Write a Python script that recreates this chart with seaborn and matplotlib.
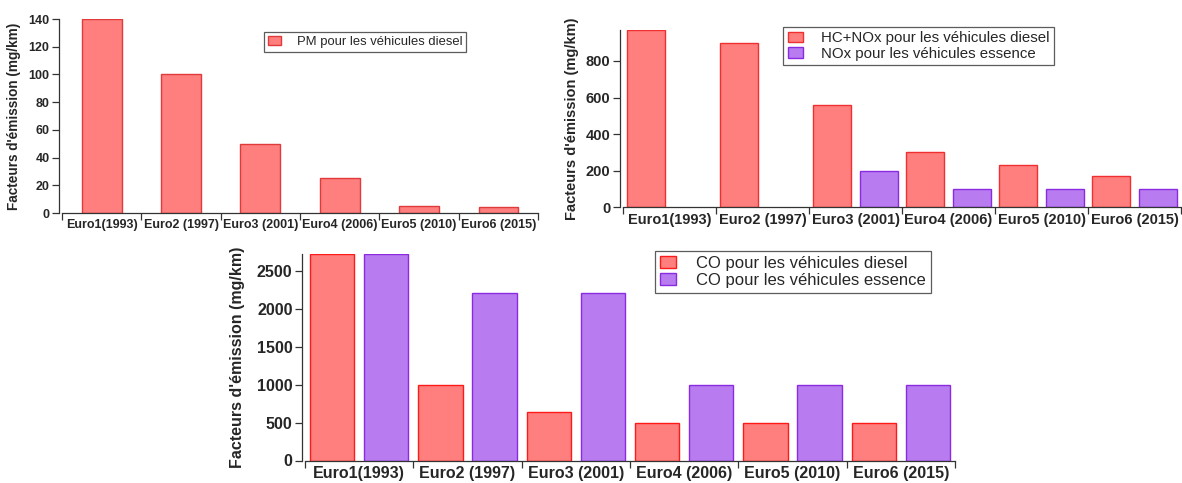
import matplotlib
matplotlib.use("Agg")
import matplotlib.pyplot as plt
import numpy as np
import pandas as pd
import seaborn as sns

sns.set_style("ticks")
plt.rcParams['font.family'] = ['Liberation Sans', 'DejaVu Sans']

# données (mg/km)
normes = ["Euro1(1993)", "Euro2 (1997)", "Euro3 (2001)", "Euro4 (2006)", "Euro5 (2010)", "Euro6 (2015)"]
pm_diesel = [140, 100, 50, 25, 5, 4.5]
hcnox_diesel = [970, 900, 560, 300, 230, 170]
nox_essence = [np.nan, np.nan, 200, 100, 100, 100]
co_diesel = [2720, 1000, 640, 500, 500, 500]
co_essence = [2720, 2200, 2200, 1000, 1000, 1000]

lab_pm = "PM pour les véhicules diesel"
lab_hc = "HC+NOx pour les véhicules diesel"
lab_nox = "NOx pour les véhicules essence"
lab_cod = "CO pour les véhicules diesel"
lab_coe = "CO pour les véhicules essence"

ROUGE, ROUGE_BORD = "#ff7f7f", "#f03030"
VIOLET, VIOLET_BORD = "#b87cf0", "#8a2be2"
ylabel = "Facteurs d'émission (mg/km)"


def long_df(series):
    rows = []
    for nom, vals in series:
        for n, v in zip(normes, vals):
            rows.append({"norme": n, "serie": nom, "val": v})
    return pd.DataFrame(rows)


def style_axe(ax, fs, fs_lab, ymax, yticks, lab_x):
    # position des axes d'abord (set_position remet les ticks à zéro)
    sns.despine(ax=ax)
    for s in ["left", "bottom"]:
        ax.spines[s].set_color("#333333")
        ax.spines[s].set_linewidth(0.9)
    ax.spines["left"].set_position(("outward", 2))

    ax.set_xlim(-0.5, 5.5)
    ax.set_ylim(0, ymax)
    ax.set_yticks(yticks)
    ax.set_yticklabels([str(v) for v in yticks], fontsize=fs, fontweight="bold")
    ax.set_xlabel("")
    ax.set_ylabel(ylabel, fontsize=fs_lab, fontweight="bold")
    ax.yaxis.set_label_coords(lab_x, 0.5)
    ax.set_xticks(range(len(normes)))
    ax.set_xticklabels(normes, fontsize=fs, fontweight="bold")
    ax.set_xticks(np.arange(-0.5, len(normes)), minor=True)
    ax.tick_params(axis="x", which="major", length=0, pad=4)
    ax.tick_params(axis="x", which="minor", length=5, width=0.9, color="#333333", direction="out")
    ax.tick_params(axis="y", length=5, width=0.9, color="#333333", pad=2)


def colorer(ax, couleurs):
    for cont, (fc, ec) in zip(ax.containers, couleurs):
        for p in cont:
            p.set_facecolor(fc)
            p.set_edgecolor(ec)
            p.set_linewidth(1.0)


def legende(ax, fs, x, y, couleurs, labels):
    h = [plt.Rectangle((0, 0), 1, 1, facecolor=fc, edgecolor=ec, linewidth=1) for fc, ec in couleurs]
    leg = ax.legend(h, labels, loc="upper left", bbox_to_anchor=(x, y), borderaxespad=0,
                    fontsize=fs, frameon=True, fancybox=False, handlelength=1.0, handleheight=0.7,
                    handletextpad=1.2, borderpad=0.3, labelspacing=0.1)
    leg.get_frame().set_edgecolor("#333333")
    leg.get_frame().set_linewidth(0.9)


fig = plt.figure(figsize=(11.82, 4.83), dpi=100)

# PM
ax1 = fig.add_axes([62 / 1182, 1 - 213 / 483, (538 - 62) / 1182, (213 - 19) / 483])
df1 = long_df([(lab_pm, pm_diesel)])
sns.barplot(data=df1, x="norme", y="val", hue="serie", width=0.5, saturation=1,
            ax=ax1, legend=False)
colorer(ax1, [(ROUGE, "#e03a3a")])
style_axe(ax1, 9, 9.8, 140, [0, 20, 40, 60, 80, 100, 120, 140], -0.086)
legende(ax1, 9.4, 0.425, 0.933, [(ROUGE, "#e03a3a")], [lab_pm])

# HC+NOx / NOx
ax2 = fig.add_axes([623 / 1182, 1 - 207.3 / 483, (1181 - 623) / 1182, (207.3 - 29.8) / 483])
df2 = long_df([(lab_hc, hcnox_diesel), (lab_nox, nox_essence)])
sns.barplot(data=df2, x="norme", y="val", hue="serie", width=1.0, gap=0.18, saturation=1,
            ax=ax2, legend=False)
colorer(ax2, [(ROUGE, ROUGE_BORD), (VIOLET, VIOLET_BORD)])
style_axe(ax2, 10.5, 10.5, 970, [0, 200, 400, 600, 800], -0.079)
legende(ax2, 10.8, 0.287, 1.016, [(ROUGE, ROUGE_BORD), (VIOLET, VIOLET_BORD)], [lab_hc, lab_nox])

# CO
ax3 = fig.add_axes([305 / 1182, 1 - 460.5 / 483, (955 - 305) / 1182, (460.5 - 254) / 483])
df3 = long_df([(lab_cod, co_diesel), (lab_coe, co_essence)])
sns.barplot(data=df3, x="norme", y="val", hue="serie", width=1.0, gap=0.18, saturation=1,
            ax=ax3, legend=False)
colorer(ax3, [(ROUGE, "#ff1a1a"), (VIOLET, VIOLET_BORD)])
style_axe(ax3, 11.5, 11.5, 2720, [0, 500, 1000, 1500, 2000, 2500], -0.092)
legende(ax3, 12, 0.538, 1.0145, [(ROUGE, "#ff1a1a"), (VIOLET, VIOLET_BORD)], [lab_cod, lab_coe])

fig.savefig("out.png", dpi=100)
